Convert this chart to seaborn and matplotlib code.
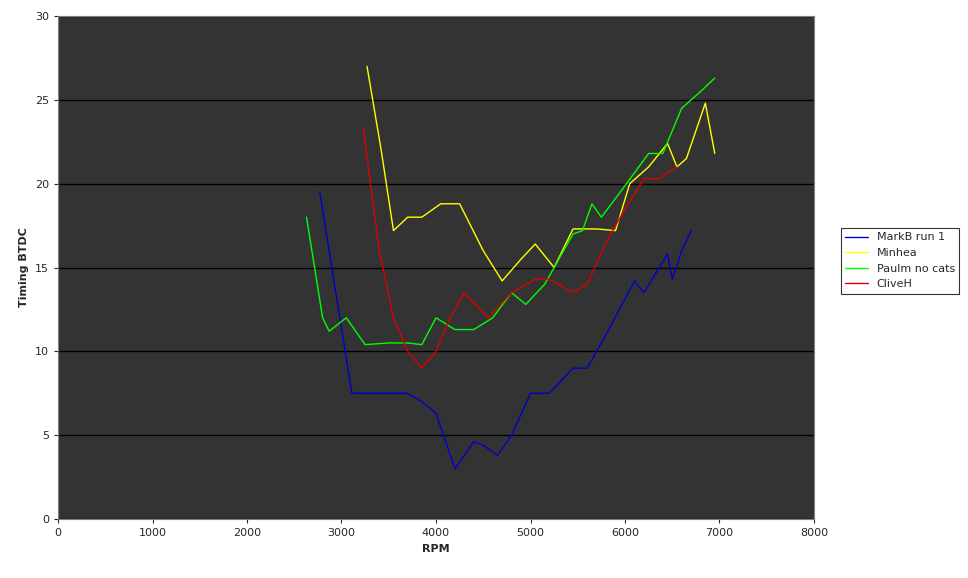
import matplotlib
matplotlib.use("Agg")
import matplotlib.pyplot as plt
import seaborn as sns
import pandas as pd

markb_rpm = [2770, 3110, 3400, 3700, 3850, 4000, 4200, 4400, 4500, 4650, 4800, 5000, 5200, 5450, 5600, 5800, 6100, 6200, 6450, 6500, 6600, 6700]
markb_val = [19.5, 7.5, 7.5, 7.5, 7.0, 6.3, 3.0, 4.6, 4.4, 3.8, 5.0, 7.5, 7.5, 9.0, 9.0, 11.0, 14.2, 13.5, 15.8, 14.3, 16.0, 17.2]
minhea_rpm = [3270, 3420, 3550, 3700, 3850, 4050, 4250, 4500, 4700, 4900, 5050, 5250, 5450, 5700, 5900, 6050, 6250, 6450, 6550, 6650, 6850, 6950]
minhea_val = [27.0, 22.0, 17.2, 18.0, 18.0, 18.8, 18.8, 16.0, 14.2, 15.5, 16.4, 15.0, 17.3, 17.3, 17.2, 20.0, 21.0, 22.4, 21.0, 21.5, 24.8, 21.8]
paulm_rpm = [2630, 2800, 2870, 3050, 3250, 3500, 3700, 3850, 4000, 4200, 4400, 4600, 4800, 4950, 5150, 5450, 5550, 5650, 5750, 5950, 6250, 6400, 6600, 6800, 6950]
paulm_val = [18.0, 12.0, 11.2, 12.0, 10.4, 10.5, 10.5, 10.4, 12.0, 11.3, 11.3, 12.0, 13.5, 12.8, 14.0, 17.0, 17.2, 18.8, 18.0, 19.5, 21.8, 21.8, 24.5, 25.5, 26.3]
clive_rpm = [3230, 3400, 3550, 3700, 3850, 4000, 4150, 4300, 4550, 4800, 5050, 5200, 5450, 5600, 5800, 6000, 6200, 6350, 6550]
clive_val = [23.3, 16.0, 12.0, 10.0, 9.0, 10.0, 12.0, 13.5, 12.0, 13.5, 14.3, 14.3, 13.5, 14.0, 16.5, 18.5, 20.3, 20.3, 21.0]

series = [("MarkB run 1", markb_rpm, markb_val, "#0000cc"),
          ("Minhea", minhea_rpm, minhea_val, "#ffff00"),
          ("Paulm no cats", paulm_rpm, paulm_val, "#00ff00"),
          ("CliveH", clive_rpm, clive_val, "#dd0000")]

sns.set_style("white")
fig = plt.figure(figsize=(9.68, 5.78), dpi=100)
ax = fig.add_axes([58/968, 1-519/578, (814-58)/968, (519-16)/578])
ax.set_facecolor("#333333")
for name, x, y, c in series:
    df = pd.DataFrame({"RPM": x, "val": y})
    sns.lineplot(data=df, x="RPM", y="val", ax=ax, color=c, lw=1, label=name, sort=False)
ax.set_xlim(0, 8000)
ax.set_ylim(0, 30)
ax.set_xticks(range(0, 8001, 1000))
ax.set_yticks(range(0, 31, 5))
ax.yaxis.grid(True, color="black", lw=1)
ax.set_axisbelow(True)
ax.tick_params(labelsize=8, length=3, direction="out", left=True, bottom=True)
ax.set_xlabel("RPM", fontsize=8, fontweight="bold")
ax.set_ylabel("Timing BTDC", fontsize=8, fontweight="bold")
for s in ax.spines.values():
    s.set_color("#808080")
leg = ax.legend(loc="upper left", bbox_to_anchor=(841/968, 1-228/578), bbox_transform=fig.transFigure,
                fontsize=8, frameon=True, fancybox=False, edgecolor="black", borderaxespad=0)
leg.get_frame().set_linewidth(0.8)
fig.savefig("out.png", dpi=100)
